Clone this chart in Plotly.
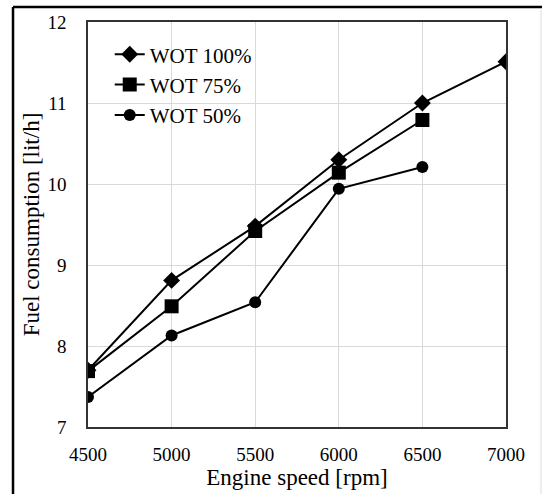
import plotly.graph_objects as go

speed = [4500, 5000, 5500, 6000, 6500, 7000]
wot100 = [7.7, 8.81, 9.48, 10.3, 11.0, 11.51]
wot75 = [7.69, 8.49, 9.42, 10.14, 10.79]
wot50 = [7.37, 8.13, 8.54, 9.94, 10.21]

FONT = "Liberation Serif, Times New Roman, serif"

fig = go.Figure()
fig.add_trace(go.Scatter(x=speed, y=wot100, name="WOT 100%", mode="lines+markers",
                         line=dict(color="black", width=2),
                         marker=dict(symbol="diamond", size=13, color="black")))
fig.add_trace(go.Scatter(x=speed[:5], y=wot75, name="WOT 75%", mode="lines+markers",
                         line=dict(color="black", width=2),
                         marker=dict(symbol="square", size=14, color="black")))
fig.add_trace(go.Scatter(x=speed[:5], y=wot50, name="WOT 50%", mode="lines+markers",
                         line=dict(color="black", width=2),
                         marker=dict(symbol="circle", size=12, color="black")))

fig.update_layout(
    width=542, height=494,
    margin=dict(l=88, r=36, t=22, b=67),
    paper_bgcolor="white", plot_bgcolor="white",
    font=dict(family=FONT, color="black", size=19),
    showlegend=True,
    legend=dict(x=0.052, y=0.97, xanchor="left", yanchor="top",
                font=dict(size=21, family=FONT), bgcolor="rgba(0,0,0,0)",
                tracegroupgap=0),
    xaxis=dict(range=[4500, 7000], dtick=500, tick0=4500,
               showgrid=True, gridcolor="#d9d9d9", gridwidth=1,
               showline=True, linecolor="#333", linewidth=1.5, mirror=True,
               ticks="", zeroline=False, ticklabelstandoff=9,
               title=dict(text="Engine speed [rpm]", font=dict(size=23), standoff=0),
               tickfont=dict(size=19)),
    yaxis=dict(range=[7, 12], dtick=1,
               showgrid=True, gridcolor="#d9d9d9", gridwidth=1,
               showline=True, linecolor="#333", linewidth=1.5, mirror=True,
               ticks="", zeroline=False, ticklabelstandoff=16,
               title=dict(text="Fuel consumption [lit/h]", font=dict(size=23), standoff=1),
               tickfont=dict(size=19)),
    shapes=[
        dict(type="line", xref="paper", yref="paper", x0=-0.1794, x1=1.09, y0=1.037, y1=1.037,
             line=dict(color="black", width=2.5)),
        dict(type="line", xref="paper", yref="paper", x0=-0.1794, x1=-0.1794, y0=1.037, y1=-0.17,
             line=dict(color="black", width=2.5)),
        dict(type="line", xref="paper", yref="paper", x0=1.0837, x1=1.0837, y0=1.03, y1=-0.17,
             line=dict(color="#dddddd", width=1)),
    ],
)

fig.write_html("out.html")
